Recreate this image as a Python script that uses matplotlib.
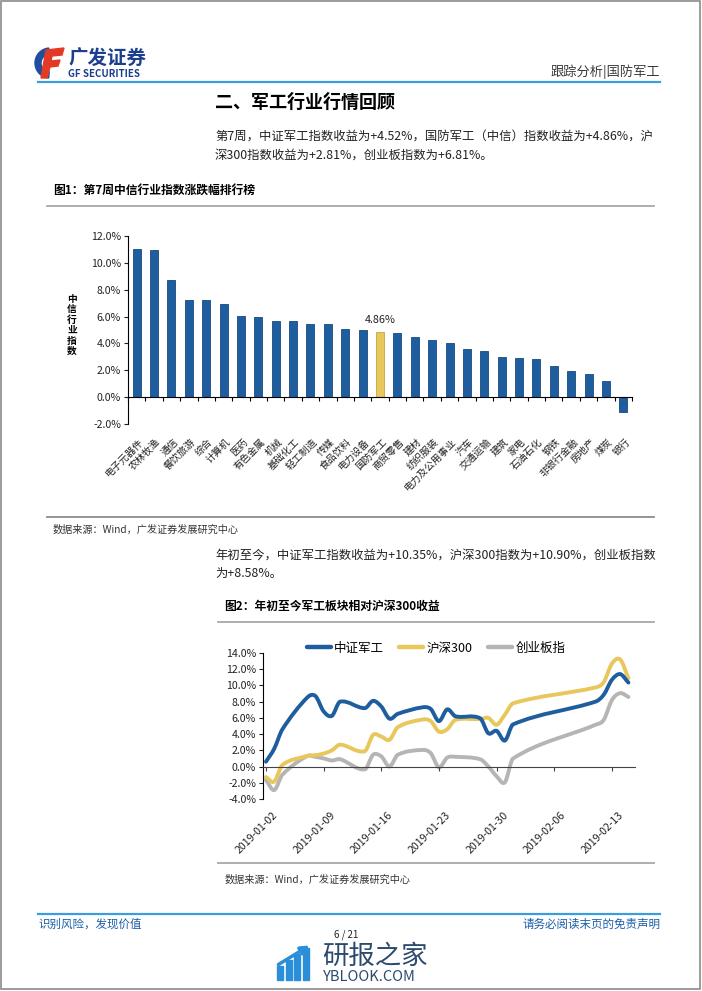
import numpy as np
import matplotlib
matplotlib.use("Agg")
from matplotlib import pyplot as plt
from matplotlib.path import Path
from matplotlib.patches import PathPatch, Rectangle, Wedge, Polygon
from matplotlib.lines import Line2D
from matplotlib.ticker import FuncFormatter

plt.rcParams['font.family'] = ['Noto Sans CJK SC', 'DejaVu Sans']

#  ----------------------------------------  data  ----------------------------------------  #

industries = ["电子元器件", "农林牧渔", "通信", "餐饮旅游", "综合", "计算机", "医药", "有色金属",
              "机械", "基础化工", "轻工制造", "传媒", "食品饮料", "电力设备", "国防军工", "商贸零售",
              "建材", "纺织服装", "电力及公用事业", "汽车", "交通运输", "建筑", "家电", "石油石化",
              "钢铁", "非银行金融", "房地产", "煤炭", "银行"]
week_ret = [11.02, 10.95, 8.75, 7.25, 7.22, 6.92, 6.05, 5.95, 5.70, 5.70, 5.47, 5.45, 5.05,
            4.97, 4.86, 4.75, 4.50, 4.23, 4.06, 3.59, 3.42, 3.02, 2.95, 2.85, 2.35, 1.96,
            1.73, 1.19, -1.09]
highlight = "国防军工"

dates = ["2019-01-02", "2019-01-03", "2019-01-04", "2019-01-07", "2019-01-08", "2019-01-09",
         "2019-01-10", "2019-01-11", "2019-01-14", "2019-01-15", "2019-01-16", "2019-01-17",
         "2019-01-18", "2019-01-21", "2019-01-22", "2019-01-23", "2019-01-24", "2019-01-25",
         "2019-01-28", "2019-01-29", "2019-01-30", "2019-01-31", "2019-02-01", "2019-02-11",
         "2019-02-12", "2019-02-13", "2019-02-14", "2019-02-15"]
zzjg = [0.6, 2.2, 4.6, 8.5, 8.7, 6.8, 6.25, 8.0, 7.2, 8.1, 7.4, 5.9, 6.5, 7.3, 7.1, 5.6,
        7.05, 6.2, 5.95, 4.1, 4.4, 3.2, 5.2, 8.0, 8.85, 10.7, 11.4, 10.35]
hs300 = [-1.3, -1.85, 0.2, 1.3, 1.4, 1.6, 2.0, 2.7, 1.9, 3.9, 3.7, 3.3, 4.85, 5.8, 5.6, 4.3,
         4.6, 5.75, 5.85, 6.0, 5.15, 6.4, 7.8, 9.75, 10.4, 12.7, 13.2, 10.90]
cybz = [-1.65, -2.9, -1.0, 1.3, 1.2, 1.0, 0.75, 0.9, -0.35, 1.45, 1.25, 0.0, 1.45, 2.05,
        1.65, -0.1, 1.1, 1.2, 0.9, 0.0, -1.2, -1.95, 1.0, 5.15, 5.75, 8.2, 9.05, 8.58]
series_names = ["中证军工", "沪深300", "创业板指"]
tick_dates = ["2019-01-02", "2019-01-09", "2019-01-16", "2019-01-23", "2019-01-30",
              "2019-02-06", "2019-02-13"]

BLUE = "#1f5e9e"
YEL = "#e8c75c"
GRAY = "#b5b5b5"
W, H = 702, 991


def px(x0, y0, w, h):
    return [x0 / W, 1 - (y0 + h) / H, w / W, h / H]


def smooth(x, y, **kw):
    # smoothed line like the excel one, drawn as bezier path through the points
    x = np.asarray(x, float); y = np.asarray(y, float)
    n = len(x)
    m = np.empty(n)
    m[1:-1] = (y[2:] - y[:-2]) / (x[2:] - x[:-2])
    m[0] = (y[1] - y[0]) / (x[1] - x[0])
    m[-1] = (y[-1] - y[-2]) / (x[-1] - x[-2])
    verts = [(x[0], y[0])]
    codes = [Path.MOVETO]
    for i in range(n - 1):
        h = x[i + 1] - x[i]
        verts += [(x[i] + h / 3, y[i] + m[i] * h / 3),
                  (x[i + 1] - h / 3, y[i + 1] - m[i + 1] * h / 3),
                  (x[i + 1], y[i + 1])]
        codes += [Path.CURVE4] * 3
    return PathPatch(Path(verts, codes), fill=False, **kw)


fig = plt.figure(figsize=(W / 100, H / 100), dpi=100)

#  ----------------------------------------  page  ----------------------------------------  #

bg = fig.add_axes([0, 0, 1, 1])
bg.set_xlim(0, W); bg.set_ylim(H, 0); bg.axis('off')
bg.add_patch(Rectangle((0.5, 0.5), W - 2.5, H - 2.5, fill=False, ec="#8a8a8a", lw=1.2))

# logo
bg.add_patch(Wedge((50, 63), 15, 95, 265, width=6, color="#1f4e9f"))
bg.add_patch(Polygon([(46, 50), (64, 48), (62, 55), (52, 56), (51, 61), (60, 60), (58, 66),
                      (50, 67), (47, 78), (41, 78)], closed=True, color="#e23a25"))
bg.text(68, 59, "广发证券", fontsize=14, fontweight='bold', color="#1c3e8e", va='center')
bg.text(68, 74, "GF SECURITIES", fontsize=7, fontweight='bold', color="#1c3e8e", va='center')
bg.text(660, 72, "跟踪分析|国防军工", fontsize=9.5, color="#3a3a3a", ha='right', va='center')
bg.plot([38, 660], [82, 82], color="#3d9be0", lw=1.6)

bg.text(215, 102, "二、军工行业行情回顾", fontsize=13, fontweight='bold', va='center')
bg.text(215, 136, "第7周，中证军工指数收益为+4.52%，国防军工（中信）指数收益为+4.86%，沪",
        fontsize=8.9, va='center', color="#222222")
bg.text(215, 155, "深300指数收益为+2.81%，创业板指数为+6.81%。", fontsize=8.9, va='center', color="#222222")

bg.text(53, 190, "图1：第7周中信行业指数涨跌幅排行榜", fontsize=8.5, fontweight='bold', va='center')
bg.plot([47, 654], [206, 206], color="#a8a8a8", lw=1.3)
bg.plot([47, 654], [517, 517], color="#8c8c8c", lw=1.3)
bg.text(53, 530, "数据来源：Wind，广发证券发展研究中心", fontsize=7.3, va='center', color="#333333")

bg.text(215, 555, "年初至今，中证军工指数收益为+10.35%，沪深300指数为+10.90%，创业板指数",
        fontsize=8.9, va='center', color="#222222")
bg.text(215, 573, "为+8.58%。", fontsize=8.9, va='center', color="#222222")
bg.text(224, 606, "图2：年初至今军工板块相对沪深300收益", fontsize=8.5, fontweight='bold', va='center')
bg.plot([218, 654], [622, 622], color="#a8a8a8", lw=1.3)
bg.plot([218, 654], [863, 863], color="#a8a8a8", lw=1.3)
bg.text(225, 880, "数据来源：Wind，广发证券发展研究中心", fontsize=7.3, va='center', color="#333333")

# footer
bg.plot([38, 660], [914, 914], color="#3d9be0", lw=1.6)
bg.text(38, 924, "识别风险，发现价值", fontsize=8.3, color="#1a5ea8", va='center')
bg.text(660, 924, "请务必阅读末页的免责声明", fontsize=8.3, color="#1a5ea8", ha='right', va='center')

# watermark
for k, hgt in enumerate([14, 20, 26, 32]):
    bg.add_patch(Rectangle((277 + k * 8.5, 980 - hgt), 6, hgt, color="#2a8fd8"))
bg.annotate("", xy=(312, 944), xytext=(276, 966),
            arrowprops=dict(arrowstyle="-|>", color="#2a8fd8", lw=2.5, mutation_scale=12))
bg.text(322, 956, "研报之家", fontsize=19, color="#2c4a6e", va='center')
bg.text(323, 977, "YBLOOK.COM", fontsize=10.5, color="#2c4a6e", va='center')
bg.text(346, 935, "6 / 21", fontsize=7, color="#222222", ha='center', va='center')

#  ---------------------------------------  chart 1  ---------------------------------------  #

ax = fig.add_axes(px(128, 236, 504, 188))
xs = np.arange(len(industries))
cols = [YEL if n == highlight else BLUE for n in industries]
ax.bar(xs, week_ret, width=0.46, color=cols, edgecolor=["#c9a63a" if n == highlight else "#174a7e"
                                                        for n in industries], lw=0.6, zorder=2)
ax.set_xlim(-0.5, len(industries) - 0.5)
ax.set_ylim(-2, 12)
ax.set_yticks(np.arange(-2, 12.1, 2))
ax.yaxis.set_major_formatter(FuncFormatter(lambda v, p: "%.1f%%" % v))
ax.tick_params(axis='y', direction='out', length=3, labelsize=7.6, pad=2, colors="#222222")
ax.spines['bottom'].set_position(('data', 0))
ax.spines['top'].set_visible(False)
ax.spines['right'].set_visible(False)
ax.set_xticks(np.arange(len(industries) + 1) - 0.5)
ax.set_xticklabels([])
ax.tick_params(axis='x', direction='out', length=3)
for i, name in enumerate(industries):
    ax.annotate(name, xy=(i, -2), xytext=(1, -9), textcoords='offset points', rotation=45,
                ha='right', va='top', rotation_mode='anchor', fontsize=7.1, color="#222222")
hi = industries.index(highlight)
ax.annotate("%.2f%%" % week_ret[hi], xy=(hi, week_ret[hi]), xytext=(0, 5), textcoords='offset points',
            ha='center', va='bottom', fontsize=7.8, color="#222222")
bg.text(72, 325, "中\n信\n行\n业\n指\n数", fontsize=7, fontweight='bold', ha='center', va='center',
        linespacing=1.05)

#  ---------------------------------------  chart 2  ---------------------------------------  #

d0 = np.datetime64(dates[0])
day = (np.array(dates, dtype='datetime64[D]') - d0).astype(int)
tdays = (np.array(tick_dates, dtype='datetime64[D]') - d0).astype(int)

ax2 = fig.add_axes(px(263, 653, 372, 146))
for vals, c in zip([cybz, hs300, zzjg], [GRAY, YEL, BLUE]):
    ax2.add_patch(smooth(day, vals, ec=c, lw=2.8, capstyle='round', joinstyle='round'))
ax2.set_xlim(-0.36, 44.8)
ax2.set_ylim(-4, 14)
ax2.set_yticks(np.arange(-4, 14.1, 2))
ax2.yaxis.set_major_formatter(FuncFormatter(lambda v, p: "%.1f%%" % v))
ax2.tick_params(axis='y', direction='out', length=3, labelsize=7.6, pad=2, colors="#222222")
ax2.spines['bottom'].set_position(('data', 0))
ax2.spines['bottom'].set_color("#444444")
ax2.spines['top'].set_visible(False)
ax2.spines['right'].set_visible(False)
ax2.set_xticks(tdays)
ax2.set_xticklabels([])
ax2.tick_params(axis='x', direction='out', length=3, colors="#444444")
for dd, lab in zip(tdays, tick_dates):
    ax2.annotate(lab, xy=(dd, -4), xytext=(4.5, -8), textcoords='offset points', rotation=45,
                 ha='right', va='top', rotation_mode='anchor', fontsize=7.6, color="#222222")

handles = [Line2D([], [], color=c, lw=3.2, solid_capstyle='round') for c in [BLUE, YEL, GRAY]]
fig.legend(handles, series_names, loc='center', bbox_to_anchor=(436 / W, 1 - 648 / H), ncol=3,
           frameon=False, fontsize=9, handlelength=1.9, handletextpad=0.3, columnspacing=1.2)

plt.savefig("out.png", dpi=100)
